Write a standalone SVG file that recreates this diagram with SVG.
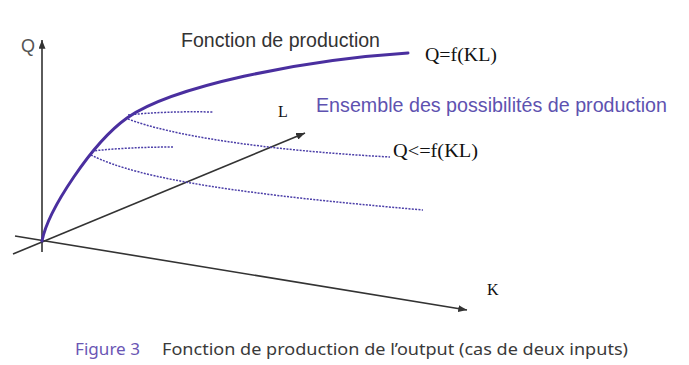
<svg xmlns="http://www.w3.org/2000/svg" width="689" height="365" viewBox="0 0 689 365">
<style>
.axis{stroke:#333;stroke-width:1.6;fill:none}
.prod{stroke:#4a2f9f;stroke-width:3;fill:none;stroke-linecap:round}
.dot{stroke:#4b3ea8;stroke-width:1.5;fill:none;stroke-dasharray:2 1.3}
.sans{font-family:"Liberation Sans",Arial,sans-serif}
.serif{font-family:"Liberation Serif","Times New Roman",serif;fill:#111}
.cap{font-family:"Noto Sans","Open Sans",sans-serif;font-size:16px}
</style>
<defs>
<marker id="arr" viewBox="0 0 10 8" refX="10" refY="4" markerWidth="9" markerHeight="7" markerUnits="userSpaceOnUse" orient="auto">
<path d="M0,0 L10,4 L0,8 z" fill="#333"/>
</marker>
</defs>
<rect width="689" height="365" fill="#fff"/>
<g id="connectors">
<path class="axis" d="M42,252 L42,40" marker-end="url(#arr)"/>
<path class="axis" d="M15,236 L467,310" marker-end="url(#arr)"/>
<path class="axis" d="M13,254 L305,133" marker-end="url(#arr)"/>
</g>
<g id="production-curve">
<path class="prod" d="M42,241 C48,210 92,143 127,118 C172,86.5 300,60 408,53"/>
</g>
<g id="possibilities">
<path class="dot" d="M128,115 Q165,111 213,112"/>
<path class="dot" d="M128,119 C170,135 260,150 390,157"/>
<path class="dot" d="M92,151 Q130,147 173,147"/>
<path class="dot" d="M91,155 C140,180 250,195 423,210"/>
</g>
<g id="labels">
<text class="sans" x="21" y="52" font-size="18" fill="#555">Q</text>
<text class="sans" x="181" y="47" font-size="19.5" fill="#333" textLength="199" lengthAdjust="spacingAndGlyphs">Fonction de production</text>
<text class="serif" x="425" y="61" font-size="19" textLength="72" lengthAdjust="spacingAndGlyphs">Q=f(KL)</text>
<text class="sans" x="316" y="112" font-size="19.5" fill="#5e52b0" textLength="351" lengthAdjust="spacingAndGlyphs">Ensemble des possibilités de production</text>
<text class="serif" x="393" y="157" font-size="19" textLength="85" lengthAdjust="spacingAndGlyphs">Q&lt;=f(KL)</text>
<text class="serif" x="278" y="117" font-size="16">L</text>
<text class="serif" x="487" y="295" font-size="16">K</text>
</g>
<g id="caption">
<text class="cap" x="75" y="355" fill="#6a56b4" textLength="65" lengthAdjust="spacingAndGlyphs">Figure 3</text>
<text class="cap" x="162" y="355" fill="#3a3a3a" textLength="466" lengthAdjust="spacingAndGlyphs">Fonction de production de l’output (cas de deux inputs)</text>
</g>
</svg>
